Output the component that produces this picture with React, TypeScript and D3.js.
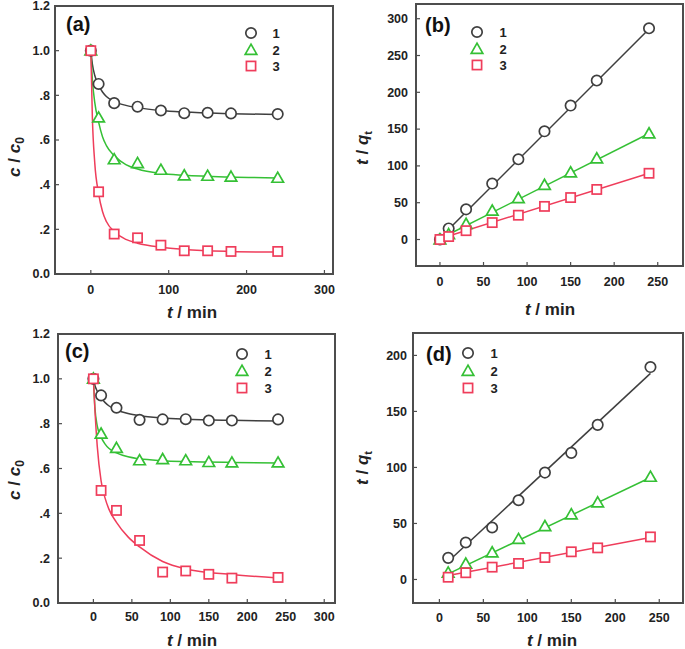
import React from 'react';
import * as d3 from 'd3';

const W = 685;
const H = 649;
const FONT = "'Liberation Sans', Arial, Helvetica, sans-serif";

// series colours: 1 = grey circles, 2 = green triangles, 3 = red squares
const COLORS = ['#3f3f3f', '#35c035', '#ef3d5b'];
const LEGEND = ['1', '2', '3'];
const KINDS = ['circle', 'triangle', 'square'];

// (a) c/c0 vs t
const tA = [0, 10, 30, 60, 90, 120, 150, 180, 240];
const a1 = [1.0, 0.851, 0.765, 0.749, 0.732, 0.72, 0.722, 0.719, 0.716];
const a2 = [1.0, 0.70, 0.513, 0.496, 0.466, 0.441, 0.439, 0.435, 0.43];
const a3 = [1.0, 0.368, 0.179, 0.162, 0.129, 0.104, 0.104, 0.101, 0.101];
// fitted curves
const fitT = [0, 2, 5, 10, 15, 20, 30, 45, 60, 90, 120, 180, 240];
const aFit1 = [1.0, 0.94, 0.89, 0.845, 0.815, 0.795, 0.772, 0.755, 0.745, 0.732, 0.725, 0.718, 0.714];
const aFit2 = [1.0, 0.87, 0.77, 0.68, 0.615, 0.575, 0.53, 0.49, 0.47, 0.45, 0.442, 0.434, 0.43];
const aFit3 = [1.0, 0.70, 0.50, 0.36, 0.28, 0.235, 0.19, 0.155, 0.138, 0.12, 0.11, 0.101, 0.098];

// (b) t/qt vs t
const tB = [0, 10, 30, 60, 90, 120, 150, 180, 240];
const b1 = [0, 15, 41, 76, 109, 147, 182, 216, 287];
const b2 = [0, 7, 21, 39, 56, 74, 91, 110, 144];
const b3 = [0, 4, 12, 23, 33, 45, 57, 68, 90];
const bLineT = [0, 240];
const bLine1 = [2, 286];
const bLine2 = [1, 144];
const bLine3 = [1, 90];

// (c) c/c0 vs t
const tC = [0, 10, 30, 60, 90, 120, 150, 180, 240];
const c1 = [1.0, 0.926, 0.871, 0.817, 0.819, 0.82, 0.814, 0.814, 0.819];
const c2 = [1.0, 0.755, 0.691, 0.636, 0.641, 0.636, 0.628, 0.626, 0.626];
const c3 = [1.0, 0.502, 0.413, 0.279, 0.138, 0.143, 0.128, 0.111, 0.114];
const cFit1 = [1.0, 0.97, 0.945, 0.915, 0.895, 0.88, 0.862, 0.845, 0.835, 0.825, 0.82, 0.815, 0.812];
const cFit2 = [1.0, 0.87, 0.79, 0.74, 0.71, 0.69, 0.67, 0.652, 0.643, 0.635, 0.631, 0.627, 0.625];
const cFit3 = [1.0, 0.86, 0.70, 0.545, 0.47, 0.42, 0.36, 0.295, 0.25, 0.185, 0.152, 0.127, 0.112];

// (d) t/qt vs t
const tD = [10, 30, 60, 90, 120, 150, 180, 240];
const d1 = [19.3, 33, 46.4, 70.7, 95.4, 113, 138, 189.6];
const d2 = [6, 14, 24, 36, 47.5, 58, 68.6, 91.5];
const d3v = [2, 6, 11, 14.3, 19.6, 24.7, 28.2, 38];
const dLineT = [10, 240];
const dLine1 = [16, 184];
const dLine2 = [5, 91];
const dLine3 = [3.5, 37.5];

const ratioTicks = [0, 0.2, 0.4, 0.6, 0.8, 1.0, 1.2];
const fmtRatio = (v: number) => (v === 0 || v >= 1 ? v.toFixed(1) : v.toFixed(1).replace(/^0/, ''));

function Marker({ kind, x, y, color }: any) {
  const sw = 1.7;
  if (kind === 'circle') {
    return <circle cx={x} cy={y} r={5.2} fill="#fff" stroke={color} strokeWidth={sw} />;
  }
  if (kind === 'triangle') {
    const p = `M${x},${y - 5.8}L${x + 5.8},${y + 4.3}L${x - 5.8},${y + 4.3}Z`;
    return <path d={p} fill="#fff" stroke={color} strokeWidth={sw} />;
  }
  return <rect x={x - 4.6} y={y - 4.6} width={9.2} height={9.2} fill="#fff" stroke={color} strokeWidth={sw} />;
}

function Panel(props: any) {
  const { xDomain, xRange, yDomain, yRange, xTicks, yTicks, yFmt, t, series, fitT, fits, smooth,
    label, labelPos, legend, xLabelY, yLabelX, xTitle, yTitle, yTitleNode } = props;
  const x = d3.scaleLinear().domain(xDomain).range(xRange);
  const y = d3.scaleLinear().domain(yDomain).range(yRange);
  const line = d3.line<number>()
    .x((_, i) => x(fitT[i]))
    .y((v) => y(v))
    .curve(smooth ? d3.curveMonotoneX : d3.curveLinear);
  const [x0, x1] = xRange;
  const [yb, yt] = yRange;
  return (
    <g>
      {fits.map((f: number[], i: number) => (
        <path key={'f' + i} d={line(f) || ''} fill="none" stroke={COLORS[i]} strokeWidth={1.5} />
      ))}
      {series.map((s: number[], i: number) =>
        s.map((v, j) => <Marker key={`m${i}-${j}`} kind={KINDS[i]} x={x(t[j])} y={y(v)} color={COLORS[i]} />)
      )}
      <rect x={x0} y={yt} width={x1 - x0} height={yb - yt} fill="none" stroke="#4d4d4d" strokeWidth={2} />
      {xTicks.map((v: number) => (
        <g key={'xt' + v}>
          <line x1={x(v)} x2={x(v)} y1={yb} y2={yb - 4} stroke="#4d4d4d" strokeWidth={1.2} />
          <text x={x(v)} y={xLabelY} textAnchor="middle" fontSize={12.5} fontWeight="bold" fill="#222">{v}</text>
        </g>
      ))}
      {yTicks.map((v: number) => (
        <g key={'yt' + v}>
          <line x1={x0} x2={x0 + 4} y1={y(v)} y2={y(v)} stroke="#4d4d4d" strokeWidth={1.2} />
          <text x={yLabelX} y={y(v)} dy="0.35em" textAnchor="end" fontSize={12.5} fontWeight="bold" fill="#222">{yFmt(v)}</text>
        </g>
      ))}
      <text x={labelPos[0]} y={labelPos[1]} fontSize={20} fontWeight="bold" fill="#111">{label}</text>
      {LEGEND.map((l, i) => (
        <g key={'lg' + i}>
          <Marker kind={KINDS[i]} x={legend.mx} y={legend.rows[i]} color={COLORS[i]} />
          <text x={legend.tx} y={legend.rows[i]} dy="0.36em" textAnchor="middle" fontSize={13} fontWeight="bold" fill="#222">{l}</text>
        </g>
      ))}
      <text x={xTitle[0]} y={xTitle[1]} textAnchor="middle" fontSize={17} fontWeight="bold" fill="#222">
        <tspan fontStyle="italic">t</tspan> / min
      </text>
      <g transform={`translate(${yTitle[0]},${yTitle[1]}) rotate(-90)`}>
        <text x={0} y={0} dy="0.35em" textAnchor="middle" fontSize={17} fontWeight="bold" fill="#222">{yTitleNode}</text>
      </g>
    </g>
  );
}

const cTitle = (
  <>
    <tspan fontStyle="italic">c</tspan> / <tspan fontStyle="italic">c</tspan>
    <tspan fontSize={12} dy="4">0</tspan>
  </>
);
const qTitle = (
  <>
    <tspan fontStyle="italic">t</tspan> / <tspan fontStyle="italic">q</tspan>
    <tspan fontSize={11} dy="4">t</tspan>
  </>
);

export default function App() {
  return (
    <svg width={W} height={H} style={{ position: 'absolute', left: 0, top: 0, background: '#fff', fontFamily: FONT }}>
      <Panel
        xDomain={[-46, 311]} xRange={[55, 333]} yDomain={[0, 1.2]} yRange={[274, 6]}
        xTicks={[0, 100, 200, 300]} yTicks={ratioTicks} yFmt={fmtRatio}
        t={tA} series={[a1, a2, a3]} fitT={fitT} fits={[aFit1, aFit2, aFit3]} smooth
        label="(a)" labelPos={[66, 31]} legend={{ mx: 251, tx: 276, rows: [33, 50, 66] }}
        xLabelY={294} yLabelX={50} xTitle={[192, 318]} yTitle={[14, 157]} yTitleNode={cTitle}
      />
      <Panel
        xDomain={[-27.5, 279]} xRange={[416, 683]} yDomain={[-36, 320]} yRange={[266, 4]}
        xTicks={[0, 50, 100, 150, 200, 250]} yTicks={[0, 50, 100, 150, 200, 250, 300]} yFmt={(v: number) => String(v)}
        t={tB} series={[b1, b2, b3]} fitT={bLineT} fits={[bLine1, bLine2, bLine3]}
        label="(b)" labelPos={[425, 32]} legend={{ mx: 477, tx: 503, rows: [32, 49, 65] }}
        xLabelY={286} yLabelX={408} xTitle={[550, 315]} yTitle={[362, 148]} yTitleNode={qTitle}
      />
      <Panel
        xDomain={[-46, 314]} xRange={[58, 335]} yDomain={[0, 1.2]} yRange={[603, 334]}
        xTicks={[0, 50, 100, 150, 200, 250, 300]} yTicks={ratioTicks} yFmt={fmtRatio}
        t={tC} series={[c1, c2, c3]} fitT={fitT} fits={[cFit1, cFit2, cFit3]} smooth
        label="(c)" labelPos={[65, 358]} legend={{ mx: 242, tx: 268, rows: [354, 371, 388] }}
        xLabelY={621} yLabelX={50} xTitle={[192, 646]} yTitle={[14, 480]} yTitleNode={cTitle}
      />
      <Panel
        xDomain={[-30, 277]} xRange={[413, 683]} yDomain={[-21, 220]} yRange={[603, 333]}
        xTicks={[0, 50, 100, 150, 200, 250]} yTicks={[0, 50, 100, 150, 200]} yFmt={(v: number) => String(v)}
        t={tD} series={[d1, d2, d3v]} fitT={dLineT} fits={[dLine1, dLine2, dLine3]}
        label="(d)" labelPos={[426, 361]} legend={{ mx: 468, tx: 494, rows: [353, 371, 388] }}
        xLabelY={622} yLabelX={407} xTitle={[552, 646]} yTitle={[362, 468]} yTitleNode={qTitle}
      />
    </svg>
  );
}
